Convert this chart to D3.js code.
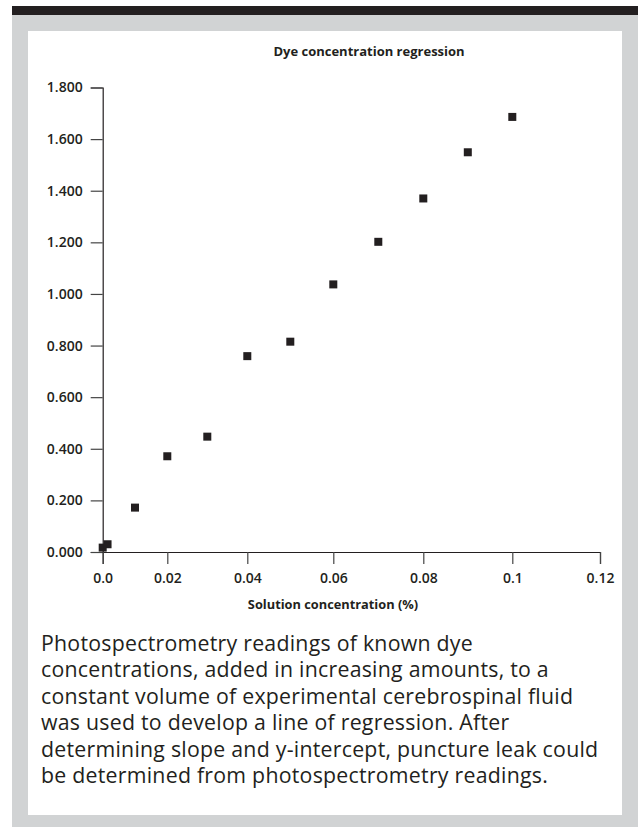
<!DOCTYPE html>
<html>
<head>
	<meta charset="utf-8">
	<title>Dye concentration regression</title>
	<script src="https://cdn.jsdelivr.net/npm/d3@7"></script>
	<style>
		body { margin: 0; background: #fff; }
		svg { display: block; font-family: "Open Sans", sans-serif; }
	</style>
</head>
<body>
	<div id="chart"></div>

	<script>
		// chart values
		var concentration = [0, 0.0015, 0.01, 0.02, 0.03, 0.04, 0.05, 0.06, 0.07, 0.08, 0.09, 0.1];
		var reading = [0.017, 0.030, 0.172, 0.371, 0.447, 0.759, 0.815, 1.037, 1.202, 1.370, 1.549, 1.686];
		var xTicks = [0, 0.02, 0.04, 0.06, 0.08, 0.1, 0.12];
		var xTickLabels = ["0.0", "0.02", "0.04", "0.06", "0.08", "0.1", "0.12"];
		var yTicks = [0, 0.2, 0.4, 0.6, 0.8, 1.0, 1.2, 1.4, 1.6, 1.8];
		var title = "Dye concentration regression";
		var xTitle = "Solution concentration (%)";
		var captionLines = [
			"Photospectrometry readings of known dye",
			"concentrations, added in increasing amounts, to a",
			"constant volume of experimental cerebrospinal fluid",
			"was used to develop a line of regression. After",
			"determining slope and y-intercept, puncture leak could",
			"be determined from photospectrometry readings."
		];

		var W = 638, H = 827;
		var ink = "#231f20";

		var svg = d3.select("#chart").append("svg")
			.attr("width", W)
			.attr("height", H);

		// frame: dark bar, grey panel, white card
		svg.append("rect").attr("x", 12).attr("y", 15).attr("width", W - 12).attr("height", H - 15).attr("fill", "#d1d3d4");
		svg.append("rect").attr("x", 12).attr("y", 6).attr("width", W - 12).attr("height", 9).attr("fill", ink);
		svg.append("rect").attr("x", 28).attr("y", 31).attr("width", 594).attr("height", 784).attr("fill", "#fff");

		// the printed x axis is not evenly spaced, so the scale has one stop per tick
		var x = d3.scaleLinear()
			.domain(xTicks)
			.range([102.7, 167.3, 247.3, 333.3, 423.3, 512.3, 600]);

		var y = d3.scaleLinear()
			.domain([0, 1.8])
			.range([552, 87.5]);

		svg.append("text")
			.attr("x", 369)
			.attr("y", 56)
			.attr("text-anchor", "middle")
			.attr("font-size", 13)
			.attr("font-weight", 700)
			.attr("fill", ink)
			.text(title);

		var yAxis = svg.append("g")
			.attr("transform", "translate(" + x(0) + ",0)")
			.call(d3.axisLeft(y)
				.tickValues(yTicks)
				.tickFormat(d3.format(".3f"))
				.tickSize(12)
				.tickPadding(8));

		var xAxis = svg.append("g")
			.attr("transform", "translate(0," + y(0) + ")")
			.call(d3.axisBottom(x)
				.tickValues(xTicks)
				.tickFormat(function (d, i) { return xTickLabels[i]; })
				.tickSize(12)
				.tickPadding(9));

		[xAxis, yAxis].forEach(function (g) {
			g.select(".domain").attr("stroke", ink).attr("stroke-width", 1.2);
			g.selectAll(".tick line").attr("stroke", "#444").attr("stroke-width", 1.2);
			g.selectAll(".tick text")
				.attr("fill", ink)
				.attr("font-size", 14)
				.attr("font-weight", 600)
				.attr("font-family", "'Open Sans', sans-serif");
		});

		svg.append("text")
			.attr("x", 333)
			.attr("y", 609)
			.attr("text-anchor", "middle")
			.attr("font-size", 12.8)
			.attr("font-weight", 700)
			.attr("fill", ink)
			.text(xTitle);

		var size = 8;
		svg.append("g").selectAll("rect")
			.data(concentration)
			.enter().append("rect")
			.attr("x", function (d) { return x(d) - size / 2; })
			.attr("y", function (d, i) { return y(reading[i]) - size / 2; })
			.attr("width", size)
			.attr("height", size)
			.attr("fill", ink);

		var caption = svg.append("text")
			.attr("font-size", 21.3)
			.attr("font-weight", 500)
			.attr("letter-spacing", 0.25)
			.attr("fill", ink);
		caption.selectAll("tspan")
			.data(captionLines)
			.enter().append("tspan")
			.attr("x", 41)
			.attr("y", function (d, i) { return 651 + i * 26.4; })
			.text(function (d) { return d; });
	</script>
</body>
</html>
